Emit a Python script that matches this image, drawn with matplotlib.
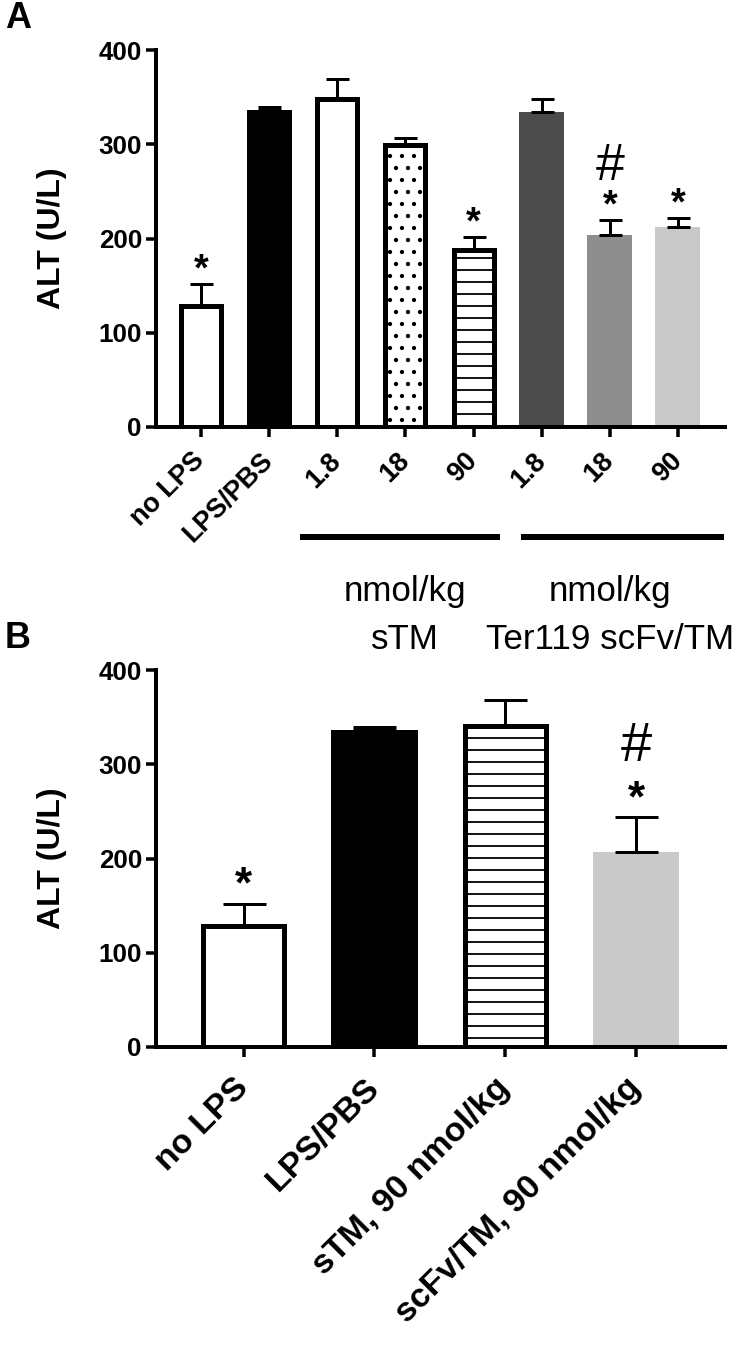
import matplotlib
matplotlib.use("Agg")
import matplotlib.pyplot as plt
import numpy as np

plt.rcParams['font.family'] = ['Liberation Sans', 'DejaVu Sans']
plt.rcParams['hatch.linewidth'] = 1.8

# ---- data, panel A ----
a_labels = ['no LPS', 'LPS/PBS', '1.8', '18', '90', '1.8', '18', '90']
a_mean = [128, 336, 348, 299, 188, 334, 204, 212]
a_sem = [24, 3, 21, 8, 14, 14, 16, 10]
a_star = [True, False, False, False, True, False, True, True]
a_hash = [False, False, False, False, False, False, True, False]
a_groups = [('nmol/kg', 'sTM', 2, 4), ('nmol/kg', 'Ter119 scFv/TM', 5, 7)]

# ---- data, panel B ----
b_labels = ['no LPS', 'LPS/PBS', 'sTM, 90 nmol/kg', 'scFv/TM, 90 nmol/kg']
b_mean = [128, 336, 341, 207]
b_sem = [24, 3, 27, 37]
b_star = [True, False, False, True]
b_hash = [False, False, False, True]

# ---- styles ----
a_fill = ['white', 'black', 'white', 'white', 'white', '#4b4b4b', '#8e8e8e', '#c9c9c9']
a_hatch = [None, None, None, '.', '-', None, None, None]
a_outline = [True, False, True, True, True, False, False, False]
b_fill = ['white', 'black', 'white', '#c9c9c9']
b_hatch = [None, None, '-', None]
b_outline = [True, False, True, False]

W, H = 748, 1346
DPI = 72
fig = plt.figure(figsize=(W / DPI, H / DPI), dpi=DPI)


def panel(rect, labels, mean, sem, fill, hatch, outline, star, hashm,
          tick_fs, tick_pad, capsize, star_fs, hash_fs, star_off, hash_off, xlim):
    ax = fig.add_axes(rect)
    x = np.arange(len(mean))
    edge_lw = 5
    px_per_unit = rect[2] * W / (xlim[1] - xlim[0])
    for i in x:
        if outline[i]:
            w = 0.66 - edge_lw / px_per_unit
            ax.bar(i, mean[i], width=w, color=fill[i], edgecolor='black',
                   linewidth=edge_lw, hatch=hatch[i], zorder=2)
        else:
            ax.bar(i, mean[i], width=0.66, color=fill[i], linewidth=0, zorder=2)
    ax.errorbar(x, mean, yerr=[np.zeros(len(mean)), sem], fmt='none',
                ecolor='black', elinewidth=3, capsize=capsize, capthick=3, zorder=3)
    for i in x:
        top = mean[i] + sem[i]
        if star[i]:
            ax.annotate('*', (i, top), xytext=(0, star_off), textcoords='offset points',
                        ha='center', va='baseline', fontsize=star_fs, fontweight='bold')
        if hashm[i]:
            ax.annotate('#', (i, top), xytext=(0, hash_off), textcoords='offset points',
                        ha='center', va='baseline', fontsize=hash_fs)
    ax.set_xlim(*xlim)
    ax.set_ylim(0, 400)
    ax.set_yticks([0, 100, 200, 300, 400])
    ax.set_xticks(x)
    ax.set_xticklabels(labels, rotation=45, ha='right', va='center',
                       rotation_mode='anchor', fontsize=tick_fs, fontweight='bold')
    for t in ax.get_yticklabels():
        t.set_fontweight('bold')
        t.set_fontsize(26)
    for s in ['top', 'right']:
        ax.spines[s].set_visible(False)
    for s in ['left', 'bottom']:
        ax.spines[s].set_linewidth(4)
    ax.tick_params(axis='both', width=3.5, length=10, direction='out')
    ax.tick_params(axis='y', pad=4)
    ax.tick_params(axis='x', pad=tick_pad)
    return ax


ax_a = panel([156 / W, 1 - 427 / H, 569 / W, 377 / H], a_labels, a_mean, a_sem,
             a_fill, a_hatch, a_outline, a_star, a_hash,
             tick_fs=27, tick_pad=20, capsize=11.5, star_fs=38, hash_fs=52,
             star_off=3, hash_off=40, xlim=(-0.66, 7.69))

# group brackets under the dose labels
bracket_spans = [(1.46, 4.39), (4.69, 7.67)]
for (line1, line2, lo, hi), (x0, x1) in zip(a_groups, bracket_spans):
    tr = ax_a.get_xaxis_transform()
    ax_a.plot([x0, x1], [-0.292, -0.292], color='black', lw=6,
              solid_capstyle='butt', transform=tr, clip_on=False)
    xc = (lo + hi) / 2
    ax_a.text(xc, -0.462, line1, transform=tr, ha='center', va='baseline', fontsize=35)
    ax_a.text(xc, -0.588, line2, transform=tr, ha='center', va='baseline', fontsize=35)

ax_b = panel([156 / W, 1 - 1047 / H, 569 / W, 377 / H], b_labels, b_mean, b_sem,
             b_fill, b_hatch, b_outline, b_star, b_hash,
             tick_fs=34, tick_pad=26, capsize=21.5, star_fs=44, hash_fs=56,
             star_off=6, hash_off=56, xlim=(-0.67, 3.68))

for ax, yc in [(ax_a, 238.5), (ax_b, 858.5)]:
    fig.text(52 / W, 1 - yc / H, 'ALT (U/L)', rotation=90, ha='center', va='center',
             fontsize=32, fontweight='bold')

fig.text(5 / W, 1 - 1 / H, 'A', ha='left', va='top', fontsize=36, fontweight='bold')
fig.text(5 / W, 1 - 621 / H, 'B', ha='left', va='top', fontsize=36, fontweight='bold')

fig.savefig('out.png', dpi=DPI)
